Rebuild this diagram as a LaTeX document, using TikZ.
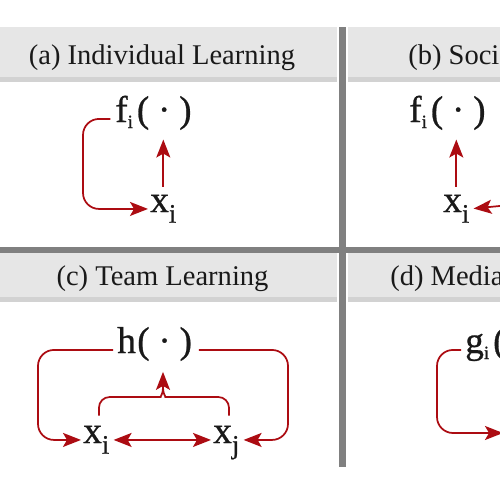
\documentclass[tikz,border=0pt]{standalone}
\usepackage{fontspec}
\setmainfont{Liberation Serif}
\newfontfamily\formelschrift[FakeBold=0.7]{Liberation Serif}
\usetikzlibrary{arrows.meta}
\definecolor{pfeilrot}{RGB}{172,12,18}
\definecolor{balken}{RGB}{128,128,128}
\definecolor{kopf}{RGB}{230,230,230}
\definecolor{kopfrand}{RGB}{210,210,210}
\newcommand{\klein}[1]{\raisebox{-4.5pt}{\fontsize{14pt}{14pt}\selectfont #1}}
\newcommand{\gross}[1]{\raisebox{-8pt}{\fontsize{20pt}{20pt}\selectfont #1}}
\newcommand{\punkt}{(\hspace{6.5pt}·\hspace{6.6pt})}
\begin{document}
\begin{tikzpicture}[x=0.75pt, y=-0.75pt,
	>={Stealth[length=13.5pt, width=10.5pt, inset=3pt]},
	titel/.style={font=\fontsize{21.4pt}{24pt}\selectfont, text=black!90, inner sep=0pt, anchor=base},
	formel/.style={font=\formelschrift\fontsize{28pt}{32pt}\selectfont, text=black!90, inner sep=0pt, anchor=base west},
	linie/.style={draw=pfeilrot, line width=1.3pt},
	pfeil/.style={linie, ->}]
		\useasboundingbox (0,0) rectangle (500,500);
		\clip (0,0) rectangle (500,500);
		\fill [white] (0,0) rectangle (500,500);
		% Kopfzeilen
		\fill [kopf] (0,27) rectangle (337,77);
		\fill [kopfrand] (0,77) rectangle (337,82);
		\fill [kopf] (348,27) rectangle (500,77);
		\fill [kopfrand] (348,77) rectangle (500,82);
		\fill [kopf] (0,253) rectangle (337,297);
		\fill [kopfrand] (0,297) rectangle (337,302);
		\fill [kopf] (348,253) rectangle (500,297);
		\fill [kopfrand] (348,297) rectangle (500,302);
		% Trennlinien
		\fill [balken] (339,27) rectangle (346,467);
		\fill [balken] (0,247) rectangle (500,253);
		% Titel
		\node [titel] (ta) at (162,64) {(a) Individual Learning};
		\node [titel, anchor=base west] (tb) at (408,64) {(b) Social Learning};
		\node [titel] (tc) at (162.5,285) {(c) Team Learning};
		\node [titel, anchor=base west] (td) at (390,285) {(d) Mediated Learning};
		%%%% (a)
		\node [formel] (fa) at (115,122) {f\klein{i}\hspace{3pt}\punkt};
		\node [formel] (xa) at (150,212) {x\gross{i}};
		\draw [pfeil, shorten <=6pt, shorten >=7pt] (xa.north) -- (xa.north |- fa.south);
		\draw [pfeil, rounded corners=12pt, shorten <=3.5pt, shorten >=1.5pt] (fa.mid west) -| (83,160) |- (xa.mid west);
		%%%% (b)
		\node [formel] (fb) at (409,122) {f\klein{i}\hspace{3pt}\punkt};
		\node [formel] (xb) at (443,212) {x\gross{i}};
		\coordinate (rand b) at (520,204);
		\draw [pfeil, shorten <=6pt, shorten >=7pt] (xb.north) -- (xb.north |- fb.south);
		\draw [pfeil, shorten >=3pt] (rand b) -- (xb.mid east);
		%%%% (c)
		\node [formel] (h) at (117,353) {h\hspace{1pt}\punkt};
		\node [formel] (xi) at (83,443) {x\gross{i}};
		\node [formel] (xj) at (213,443) {x\gross{j}};
		\coordinate (treffpunkt) at (163,388);
		\draw [pfeil, rounded corners=12pt, shorten <=3pt, shorten >=1.5pt] (h.mid west) -| (38,390) |- (xi.mid west);
		\draw [pfeil, rounded corners=12pt, shorten <=5pt, shorten >=3pt] (h.mid east) -| (288,390) |- (xj.mid east);
		\draw [pfeil, <->, shorten <=3pt, shorten >=1.5pt] (xi.mid east) -- (xj.mid west);
		% Klammer
		\draw [linie, rounded corners=8pt] ([xshift=2pt,yshift=7.5pt]xi.north) |- (150,397) .. controls (160,397) and (163,394) .. (treffpunkt);
		\draw [linie, rounded corners=8pt] ([xshift=2pt,yshift=7.5pt]xj.north) |- (176,397) .. controls (166,397) and (163,394) .. (treffpunkt);
		\draw [pfeil, shorten >=8pt] (treffpunkt) -- (treffpunkt |- h.south);
		%%%% (d)
		\node [formel] (gd) at (465,353) {g\klein{i}\hspace{3pt}\punkt};
		\coordinate (xd) at (503,433);
		\draw [pfeil, rounded corners=12pt, shorten <=3pt] (gd.mid west) -| (437,390) |- (xd);
\end{tikzpicture}
\end{document}
